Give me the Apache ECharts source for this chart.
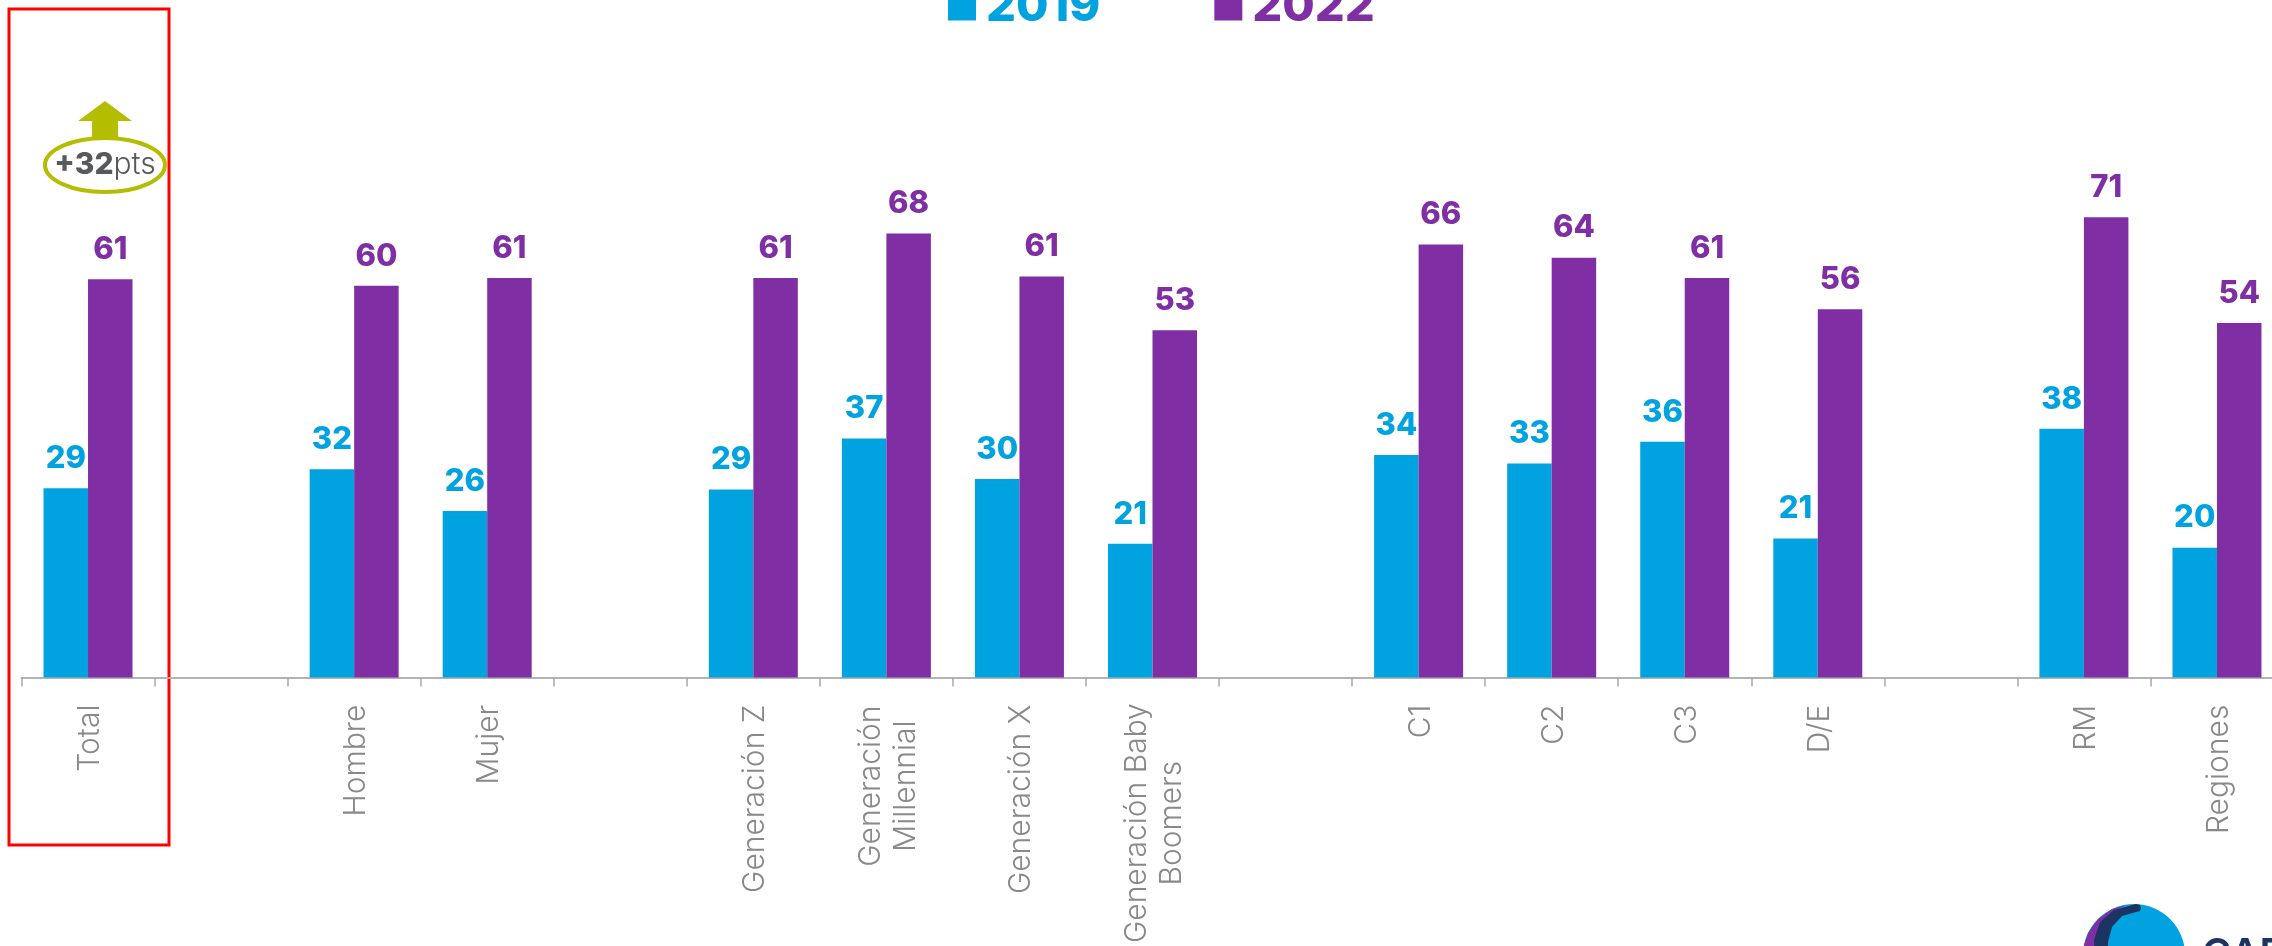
<!DOCTYPE html>
<html>
<head>
<meta charset="utf-8">
<style>
  html, body { margin: 0; padding: 0; background: #fff; overflow: hidden; }
  #main { width: 2290px; height: 946px; }
</style>
<script src="https://cdn.jsdelivr.net/npm/echarts@6/dist/echarts.min.js"></script>
</head>
<body>
<div id="main"></div>
<script>
  var categories = ['Total', '', 'Hombre', 'Mujer', ' ', 'Generación Z', 'Generación Millennial', 'Generación X', 'Generación Baby Boomers', '  ', 'C1', 'C2', 'C3', 'D/E', '   ', 'RM', 'Regiones'];
  var values2019 = [29, null, 31.9, 25.5, null, 28.8, 36.6, 30.4, 20.5, null, 34.1, 32.8, 36.1, 21.3, null, 38.1, 19.9];
  var values2022 = [61, null, 60, 61.2, null, 61.2, 68, 61.4, 53.2, null, 66.3, 64.3, 61.2, 56.4, null, 70.5, 54.3];

  var blue = '#00a3e0';
  var purple = '#7f2fa3';
  var navy = '#1b3461';
  var olive = '#b5bd00';
  var font = 'Inter';

  var myCharts = echarts.init(document.getElementById('main'));

  function barSeries(name, data, color) {
    return {
      name: name,
      type: 'bar',
      data: data,
      barWidth: 44.5,
      barGap: 0,
      itemStyle: { color: color },
      label: {
        show: true,
        position: 'top',
        distance: 14,
        color: color,
        fontFamily: font,
        fontWeight: 800,
        fontSize: 31,
        formatter: function (p) { return Math.round(p.value); }
      }
    };
  }

  var labelStyle = { color: '#898989', fontFamily: font, fontWeight: 300, fontSize: 30, lineHeight: 35 };

  var option = {
    animation: false,
    backgroundColor: '#fff',
    legend: {
      left: 943,
      top: -22,
      icon: 'rect',
      itemWidth: 28,
      itemHeight: 28,
      itemGap: 114,
      textStyle: {
        fontFamily: font,
        fontWeight: 800,
        fontSize: 47,
        padding: [0, 0, 0, 5],
        color: 'inherit'
      },
      data: ['2019', '2022']
    },
    grid: { left: 21.5, top: 24.5, width: 2262, height: 654 },
    xAxis: {
      type: 'category',
      data: categories,
      axisLine: { lineStyle: { color: '#b3b3b3', width: 2 } },
      axisTick: { show: true, length: 9, lineStyle: { color: '#a8a8a8', width: 1.5 } },
      axisLabel: {
        interval: 0,
        rotate: 90,
        margin: 27,
        padding: [4, 0, 0, 0],
        color: labelStyle.color,
        fontFamily: font,
        fontWeight: 300,
        fontSize: 30,
        lineHeight: 35,
        formatter: function (value) {
          if (value === 'Generación Millennial') return '{a|Generación}\n{a|Millennial}';
          if (value === 'Generación Baby Boomers') return '{b|Generación Baby}\n{b|Boomers}';
          return value;
        },
        rich: {
          a: Object.assign({ width: 163, align: 'center' }, labelStyle),
          b: Object.assign({ width: 237, align: 'center' }, labelStyle)
        }
      }
    },
    yAxis: { type: 'value', min: 0, max: 100, show: false },
    series: [
      barSeries('2019', values2019, blue),
      barSeries('2022', values2022, purple)
    ],
    graphic: [
      { type: 'rect', shape: { x: 9, y: 9, width: 160, height: 836 }, style: { fill: 'none', stroke: '#ff0000', lineWidth: 3 } },
      { type: 'polygon', shape: { points: [[105, 101], [132, 121], [118, 121], [118, 140], [92, 140], [92, 121], [78, 121]] }, style: { fill: olive } },
      { type: 'ellipse', shape: { cx: 105, cy: 165, rx: 60, ry: 27 }, style: { fill: '#fff', stroke: olive, lineWidth: 4 } },
      {
        type: 'text', x: 105, y: 165,
        style: {
          text: '{b|+32}{l|pts}', align: 'center', verticalAlign: 'middle',
          rich: {
            b: { fontFamily: font, fontWeight: 800, fontSize: 30, fill: '#58595b' },
            l: { fontFamily: font, fontWeight: 300, fontSize: 30, fill: '#58595b' }
          }
        }
      },
      // logo, cut by the bottom edge
      { type: 'circle', shape: { cx: 2134, cy: 955, r: 51 }, style: { fill: blue } },
      { type: 'polygon', shape: { points: [[2127, 904.5], [2112, 909], [2098, 919], [2088, 933], [2084, 945], [2083, 955], [2096, 955], [2097, 935], [2104, 920], [2116, 910]] }, style: { fill: purple } },
      { type: 'polygon', shape: { points: [[2095, 960], [2094, 940], [2100, 922], [2114, 910], [2136, 904], [2140, 905], [2141, 908], [2140, 911], [2136, 912], [2122, 916], [2112, 927], [2108, 942], [2108, 960]] }, style: { fill: navy } },
      { type: 'text', x: 2202, y: 935, style: { text: 'CADEM', fontFamily: font, fontWeight: 600, fontSize: 40, fill: navy } }
    ]
  };
  myCharts.setOption(option);
</script>
</body>
</html>
